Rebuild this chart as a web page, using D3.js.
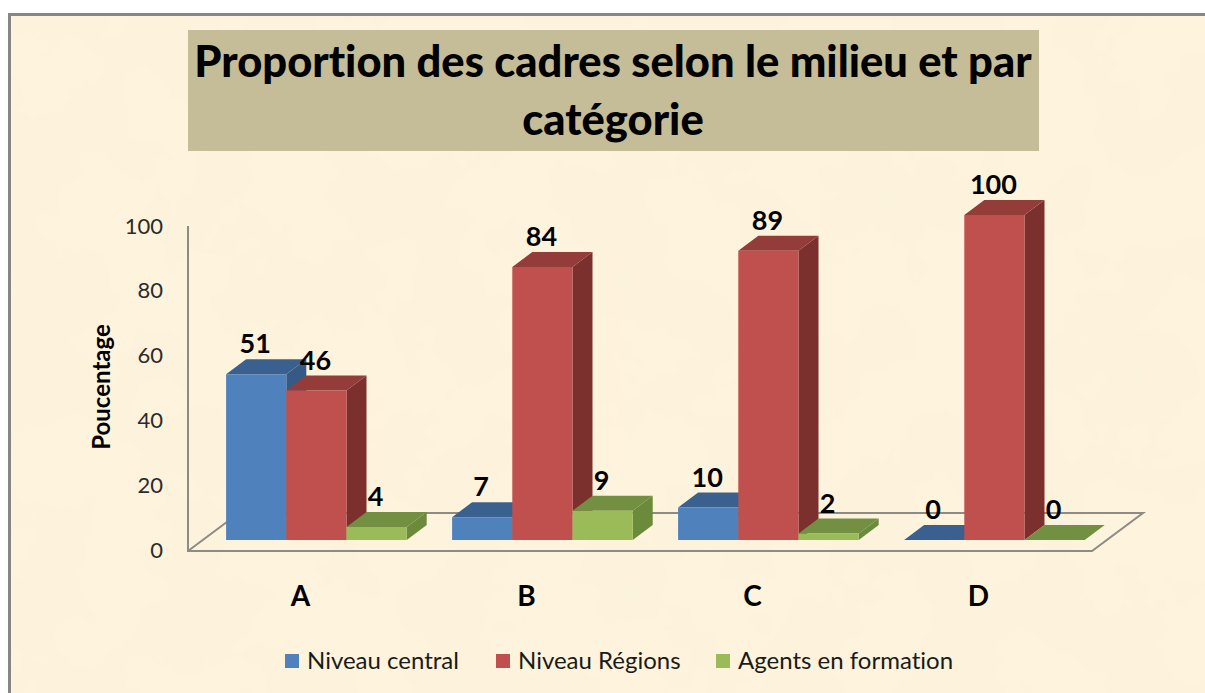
<!DOCTYPE html>
<html>
<head>
<meta charset="utf-8">
<script src="https://cdn.jsdelivr.net/npm/d3@7"></script>
<style>
  html, body { margin: 0; padding: 0; background: #fff; }
  svg { display: block; font-family: Lato, "Noto Sans", sans-serif; font-variant-ligatures: none; }
</style>
</head>
<body>
<div id="chart"></div>
<script>
const categories = ["A", "B", "C", "D"];
const seriesNames = ["Niveau central", "Niveau Régions", "Agents en formation"];
const central = [51, 7, 10, 0];
const regions = [46, 84, 89, 100];
const formation = [4, 9, 2, 0];
const yTicks = [0, 20, 40, 60, 80, 100];
const titleLines = ["Proportion des cadres selon le milieu et par", "catégorie"];

const width = 1205,
  height = 693,
  depthX = 20,
  depthY = 15;

const colors = [
  { front: "#4f81bd", top: "#3a6090", side: "#355a86" },
  { front: "#c0504d", top: "#943c39", side: "#7c302e" },
  { front: "#9bbb59", top: "#728f42", side: "#6b8a3c" },
];

const svg = d3.select("#chart").append("svg")
  .attr("width", width)
  .attr("height", height);

// paper texture for the chart area
const filter = svg.append("defs").append("filter")
  .attr("id", "paper")
  .attr("x", 0).attr("y", 0).attr("width", "100%").attr("height", "100%");
filter.append("feTurbulence")
  .attr("type", "fractalNoise")
  .attr("baseFrequency", 0.012)
  .attr("numOctaves", 4)
  .attr("seed", 7);
filter.append("feColorMatrix")
  .attr("type", "matrix")
  .attr("values", "0 0 0 0 0.96  0 0 0 0 0.89  0 0 0 0 0.72  0.85 0 0 0 -0.27");
filter.append("feComposite").attr("in2", "SourceGraphic").attr("operator", "over");

svg.append("rect")
  .attr("x", 9).attr("y", 14)
  .attr("width", width - 9).attr("height", height - 14)
  .attr("fill", "#fef3dc")
  .attr("filter", "url(#paper)");
svg.append("path")
  .attr("d", `M9.5,${height}V14.5H${width}`)
  .attr("fill", "none")
  .attr("stroke", "#868686")
  .attr("stroke-width", 3);

// title
svg.append("rect")
  .attr("x", 188).attr("y", 30)
  .attr("width", 851).attr("height", 121)
  .attr("fill", "#c4bd97");
svg.selectAll("text.title")
  .data(titleLines)
  .join("text")
  .attr("class", "title")
  .attr("x", 613)
  .attr("y", (d, i) => 77 + i * 58)
  .attr("text-anchor", "middle")
  .attr("font-size", 43.5)
  .attr("font-weight", 900)
  .attr("fill", "#000")
  .text(d => d);

// scales: y runs along the front plane of the bars
const yScale = d3.scaleLinear().domain([0, 100]).range([540, 215]);
const yAxisScale = d3.scaleLinear().domain([0, 100]).range([550, 226]);
const xScale = d3.scaleBand().domain(categories).range([203.4, 1107.4]);
const seriesScale = d3.scaleBand().domain(seriesNames)
  .range([0, xScale.bandwidth()])
  .paddingInner(0).paddingOuter(0.377);

// floor and left wall
const floorLeft = 188,
  floorRight = 1092,
  floorFront = 551,
  floorBack = 513,
  floorShift = 51;
svg.append("path")
  .attr("d", `M${floorLeft},${yAxisScale(100)}V${floorFront}H${floorRight}L${floorRight + floorShift},${floorBack}H${floorLeft + floorShift}L${floorLeft},${floorFront}`)
  .attr("fill", "none")
  .attr("stroke", "#8e8b85")
  .attr("stroke-width", 2);

// y axis
const yAxis = svg.append("g")
  .attr("transform", `translate(${floorLeft},0)`)
  .call(d3.axisLeft(yAxisScale).tickValues(yTicks).tickSize(0).tickPadding(25));
yAxis.select(".domain").remove();
yAxis.selectAll("text")
  .attr("font-family", "Lato, sans-serif")
  .attr("font-size", 22)
  .attr("fill", "#2b2b2b");

svg.append("text")
  .attr("transform", `translate(110,387) rotate(-90)`)
  .attr("text-anchor", "middle")
  .attr("font-size", 24)
  .attr("font-weight", 700)
  .attr("fill", "#000")
  .text("Poucentage");

// bars, drawn series by series so later ones sit over earlier depth faces
const rows = categories.flatMap((cat, c) =>
  [central, regions, formation].map((values, s) => ({ cat, s, value: values[c] })));

const bars = svg.selectAll("g.bar")
  .data(rows)
  .join("g")
  .attr("class", "bar");

const barX = d => xScale(d.cat) + seriesScale(seriesNames[d.s]);
const barW = seriesScale.bandwidth();

bars.append("path")
  .attr("fill", d => colors[d.s].side)
  .attr("d", d => {
    const x = barX(d) + barW, t = yScale(d.value), b = yScale(0);
    return `M${x},${t}l${depthX},${-depthY}V${b - depthY}L${x},${b}Z`;
  });
bars.append("path")
  .attr("fill", d => colors[d.s].top)
  .attr("d", d => {
    const x = barX(d), t = yScale(d.value);
    return `M${x},${t}l${depthX},${-depthY}h${barW}l${-depthX},${depthY}Z`;
  });
bars.append("rect")
  .attr("x", barX)
  .attr("y", d => yScale(d.value))
  .attr("width", barW)
  .attr("height", d => yScale(0) - yScale(d.value))
  .attr("fill", d => colors[d.s].front);

// value labels
svg.selectAll("text.value")
  .data(rows)
  .join("text")
  .attr("class", "value")
  .attr("x", d => barX(d) + barW / 2 - 1)
  .attr("y", d => yScale(d.value) - depthY - 6)
  .attr("text-anchor", "middle")
  .attr("font-size", 27)
  .attr("font-weight", 700)
  .attr("fill", "#000")
  .text(d => d.value);

// category labels
svg.selectAll("text.cat")
  .data(categories)
  .join("text")
  .attr("class", "cat")
  .attr("x", d => xScale(d) + xScale.bandwidth() / 2 - 16)
  .attr("y", 606)
  .attr("text-anchor", "middle")
  .attr("font-size", 28)
  .attr("font-weight", 700)
  .attr("fill", "#000")
  .text(d => d);

// legend
const legendX = [285, 496, 716];
const legend = svg.selectAll("g.legend")
  .data(seriesNames)
  .join("g")
  .attr("class", "legend")
  .attr("transform", (d, i) => `translate(${legendX[i]},654)`);
legend.append("rect")
  .attr("width", 14).attr("height", 14)
  .attr("fill", (d, i) => colors[i].front);
legend.append("text")
  .attr("x", 22)
  .attr("y", 15)
  .attr("font-size", 24)
  .attr("fill", "#1a1a1a")
  .text(d => d);
</script>
</body>
</html>
